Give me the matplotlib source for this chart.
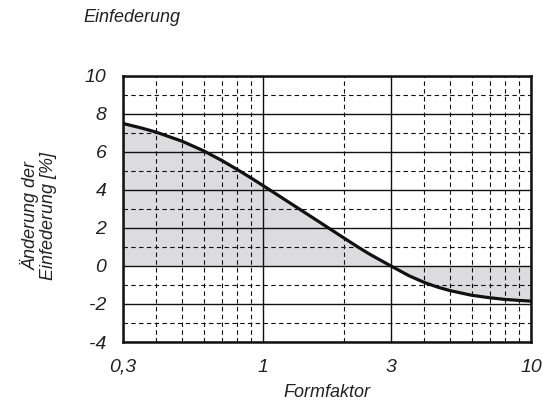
import matplotlib
matplotlib.use('Agg')
import matplotlib.pyplot as plt
from matplotlib.ticker import FixedLocator, NullFormatter

plt.rcParams['font.family'] = ['Liberation Sans', 'DejaVu Sans']
plt.rcParams['font.style'] = 'italic'
plt.rcParams['axes.unicode_minus'] = False

# Verlauf der Einfederungsänderung über dem Formfaktor
formfaktor = [0.3, 0.35, 0.4, 0.5, 0.6, 0.7, 0.8, 0.9, 1.0, 1.2, 1.4, 1.6, 1.8, 2.0, 2.27, 2.5,
              3.0, 3.5, 4.0, 4.5, 5.0, 6.0, 7.0, 8.0, 9.0, 10.0]
aenderung = [7.5, 7.27, 7.04, 6.56, 6.06, 5.56, 5.08, 4.64, 4.23, 3.51, 2.9, 2.37, 1.9, 1.48,
             0.98, 0.62, 0.0, -0.51, -0.87, -1.12, -1.3, -1.54, -1.67, -1.76, -1.81, -1.85]

x_major = [0.3, 1, 3, 10]
x_major_labels = ['0,3', '1', '3', '10']
x_minor = [0.4, 0.5, 0.6, 0.7, 0.8, 0.9, 2, 4, 5, 6, 7, 8, 9]
y_major = [-4, -2, 0, 2, 4, 6, 8, 10]
y_minor = [-3, -1, 1, 3, 5, 7, 9]

fig = plt.figure(figsize=(5.43, 4.07), dpi=100)
ax = fig.add_axes([0.2265, 0.1597, 0.7515, 0.6536])

ax.set_xscale('log')
ax.set_xlim(0.3, 10)
ax.set_ylim(-4, 10)

ax.fill_between(formfaktor, aenderung, 0, color='#dcdcde', lw=0, zorder=1)
ax.plot(formfaktor, aenderung, color='#111111', lw=2.3, solid_capstyle='butt',
        solid_joinstyle='round', zorder=4)

ax.xaxis.set_major_locator(FixedLocator(x_major))
ax.xaxis.set_minor_locator(FixedLocator(x_minor))
ax.xaxis.set_minor_formatter(NullFormatter())
ax.set_xticklabels(x_major_labels)
ax.yaxis.set_major_locator(FixedLocator(y_major))
ax.yaxis.set_minor_locator(FixedLocator(y_minor))

ax.grid(which='major', color='#111111', lw=1.0, ls='-', zorder=2)
ax.grid(which='minor', color='#111111', lw=0.8, ls=(0, (4, 3)), zorder=2)
ax.set_axisbelow(False)

ax.tick_params(which='both', length=0, labelsize=14, colors='#222222')
ax.tick_params(axis='x', pad=12)
ax.tick_params(axis='y', pad=12)
for lbl in ax.get_xticklabels() + ax.get_yticklabels():
    lbl.set_style('italic')

for sp in ax.spines.values():
    sp.set_linewidth(1.8)
    sp.set_color('#111111')
    sp.set_zorder(5)

ax.set_xlabel('Formfaktor', fontsize=13, style='italic', color='#222222', labelpad=6)
fig.text(0.072, 0.47, 'Änderung der\nEinfederung [%]', rotation=90, ha='center', va='center',
         fontsize=13, style='italic', color='#222222', linespacing=1.0)
fig.text(0.153, 0.957, 'Einfederung', ha='left', va='center', fontsize=13, style='italic',
         color='#222222')

fig.savefig('out.png', dpi=100, facecolor='white')
